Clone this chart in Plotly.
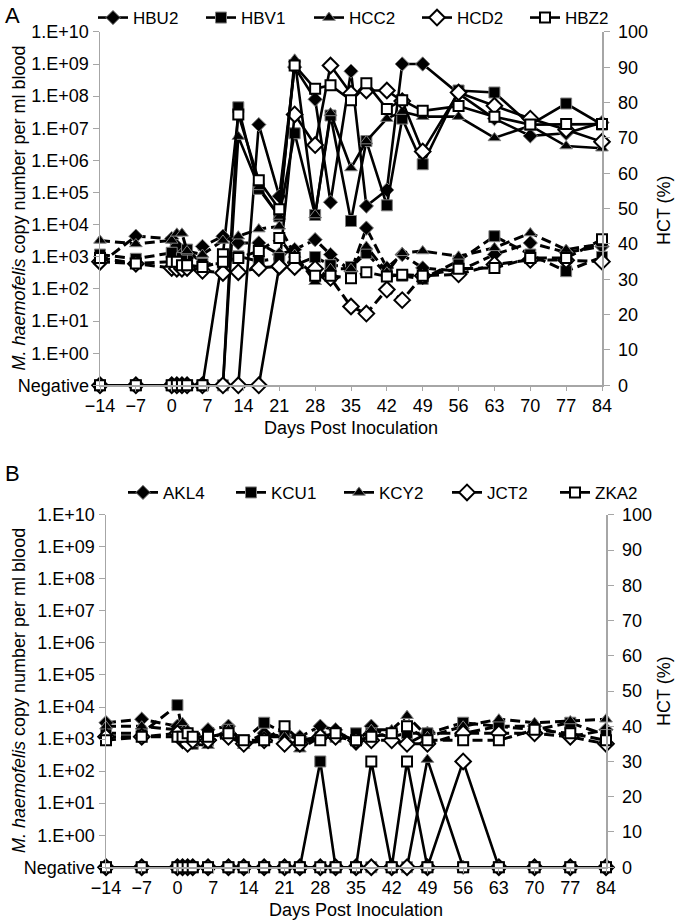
import plotly.graph_objects as go

# ---------------- data ----------------
days = [-14, -7, 0, 1, 2, 3, 6, 10, 13, 17, 21, 24, 28, 31, 35, 38, 42, 45, 49, 56, 63, 70, 77, 84]
x_ticks = [-14, -7, 0, 7, 14, 21, 28, 35, 42, 49, 56, 63, 70, 77, 84]
copy_tickvals = [0.1, 1, 10, 1e2, 1e3, 1e4, 1e5, 1e6, 1e7, 1e8, 1e9, 1e10]
copy_ticktext = ["Negative", "1.E+00", "1.E+01", "1.E+02", "1.E+03", "1.E+04",
                 "1.E+05", "1.E+06", "1.E+07", "1.E+08", "1.E+09", "1.E+10"]

# Panel A  (0 = Negative)
names_a = ["HBU2", "HBV1", "HCC2", "HCD2", "HBZ2"]
copy_hbu2 = [0, 0, 0, 0, 0, 0, 0, 0, 0, 1.3e7, 7.7e4, 8e8, 8e7, 5e4, 6e8, 3.8e4, 1.2e5, 1e9, 1e9, 1.2e8, 2e7, 5.8e6, 7e6, 1.5e7]
copy_hbv1 = [0, 0, 0, 0, 0, 0, 0, 0, 4.5e7, 1.3e5, 1.8e4, 7e6, 2e4, 2.5e7, 1.3e4, 4e6, 4e4, 2e7, 7.6e5, 1.5e8, 1.3e8, 1.3e7, 5.9e7, 1.3e7]
copy_hcc2 = [0, 0, 0, 0, 0, 0, 0, 0, 5.5e6, 1.5e5, 1.8e4, 1.4e9, 2e4, 3e7, 5.8e5, 4e6, 2e7, 3.3e7, 2.3e7, 2.3e7, 5e6, 1.2e7, 2.8e6, 2.4e6]
copy_hcd2 = [0, 0, 0, 0, 0, 0, 0, 0, 0, 0, 5e2, 2.7e7, 3e6, 9e8, 1.2e8, 1.5e8, 1.5e8, 7e7, 1.9e6, 1.3e8, 5e7, 2e7, 9e6, 3.8e6]
copy_hbz2 = [0, 0, 0, 0, 0, 0, 0, 1.2e3, 2.7e7, 2.4e5, 3e4, 9e8, 1.7e8, 2.2e8, 7.4e7, 2.5e8, 4e7, 7.5e7, 3.5e7, 4.9e7, 2.3e7, 1.3e7, 1.35e7, 1.35e7]

hct_hbu2 = [34.4, 42.2, 41.5, 39.4, 37, 36, 39.3, 42.2, 40.3, 40.3, 37, 38.4, 41.2, 37, 32.3, 44.5, 33.2, 37, 33.2, 32.3, 37, 40.3, 37.6, 39.3]
hct_hbv1 = [37, 35.8, 37.5, 34.6, 36, 38.4, 34.4, 34.4, 36.5, 35.1, 36, 34, 36.3, 34, 33.5, 37.4, 31.4, 31, 30.1, 35.2, 42.2, 37, 32.3, 36.3]
hct_hcc2 = [41, 40, 41, 43, 43, 38, 37, 41, 42.2, 44.2, 45, 37, 29.3, 33, 33, 39.3, 32, 37.5, 38, 36.5, 38.9, 43.1, 38.4, 40]
hct_hcd2 = [35, 34.4, 33.2, 33, 33, 33.2, 32.4, 31.8, 32, 33.2, 33.7, 33.5, 33, 30.4, 22.3, 20.3, 27.1, 24.1, 31, 31.4, 34.2, 35.5, 35.4, 35]
hct_hbz2 = [36, 34.5, 35, 35, 34, 34, 33.5, 35, 36, 38, 41.7, 36, 31, 31, 30.3, 32, 30.8, 31.3, 31, 33, 33.2, 36, 36, 41.3]

# Panel B
names_b = ["AKL4", "KCU1", "KCY2", "JCT2", "ZKA2"]
copy_akl4 = [0] * 24
copy_kcu1 = [0, 0, 0, 0, 0, 0, 0, 0, 0, 0, 0, 0, 2e2, 0, 0, 0, 0, 0, 0, 0, 0, 0, 0, 0]
copy_kcy2 = [0, 0, 0, 0, 0, 0, 0, 0, 0, 0, 0, 0, 0, 0, 0, 0, 0, 0, 2.3e2, 0, 0, 0, 0, 0]
copy_jct2 = [0, 0, 0, 0, 0, 0, 0, 0, 0, 0, 0, 0, 0, 0, 0, 0, 0, 0, 0, 2e2, 0, 0, 0, 0]
copy_zka2 = [0, 0, 0, 0, 0, 0, 0, 0, 0, 0, 0, 0, 0, 0, 0, 2e2, 0, 2e2, 0, 0, 0, 0, 0, 0]

hct_akl4 = [41, 42, 40, 38, 37.5, 37, 39, 40, 35, 38, 37, 37, 40, 39, 35, 40, 36, 35, 38, 38, 40, 40, 37, 39]
hct_kcu1 = [38, 38, 46, 38, 36, 35, 36, 39, 36, 41, 38, 36, 37, 37, 38, 38, 37, 38, 38, 41, 40, 39, 41, 37.5]
hct_kcy2 = [40, 40, 39, 41, 39, 35, 34.5, 39, 34.5, 37, 37, 33.5, 37, 38, 36, 39, 39, 43, 37, 40, 42, 41, 41.5, 42]
hct_jct2 = [37, 37, 38, 36, 35, 36, 36, 37, 35, 36, 35, 35, 37, 37, 36, 36, 36, 35, 35, 38, 38, 38, 37, 35]
hct_zka2 = [36, 37, 37, 37, 38, 37, 37, 38, 36, 36, 40, 36, 36, 38, 36, 37, 38, 40, 36, 36, 36, 39, 38, 36]

# ---------------- styling ----------------
W, H = 680, 921
NEG = 0.1
GRAY = "#a6a6a6"
FONT = "Liberation Sans, Arial, sans-serif"

marker_styles = [
    dict(symbol="diamond", size=11, color="black", line=dict(color="#808080", width=1)),
    dict(symbol="square", size=11, color="black", line=dict(color="#808080", width=1)),
    dict(symbol="triangle-up", size=11, color="black", line=dict(color="#808080", width=1)),
    dict(symbol="diamond", size=12, color="white", line=dict(color="black", width=2)),
    dict(symbol="square", size=10, color="white", line=dict(color="black", width=2)),
]

def px_x(p):
    return p / W

def px_y(p):
    return 1 - p / H

fig = go.Figure()

panels = [
    dict(names=names_a,
         copies=[copy_hbu2, copy_hbv1, copy_hcc2, copy_hcd2, copy_hbz2],
         hcts=[hct_hbu2, hct_hbv1, hct_hcc2, hct_hcd2, hct_hbz2],
         xa="x", ya="y", ya2="y2", legend="legend"),
    dict(names=names_b,
         copies=[copy_akl4, copy_kcu1, copy_kcy2, copy_jct2, copy_zka2],
         hcts=[hct_akl4, hct_kcu1, hct_kcy2, hct_jct2, hct_zka2],
         xa="x2", ya="y3", ya2="y4", legend="legend2"),
]

for p in panels:
    # dashed HCT lines (right axis)
    for i, name in enumerate(p["names"]):
        fig.add_trace(go.Scatter(
            x=days, y=p["hcts"][i], mode="lines+markers",
            line=dict(color="black", width=3, dash="10px,5px"),
            marker=marker_styles[i], xaxis=p["xa"], yaxis=p["ya2"],
            showlegend=False, cliponaxis=False, hoverinfo="skip"))
    # solid copy-number lines (left axis)
    for i, name in enumerate(p["names"]):
        yv = [NEG if v == 0 else v for v in p["copies"][i]]
        fig.add_trace(go.Scatter(
            x=days, y=yv, mode="lines+markers", name=name,
            line=dict(color="black", width=2.6),
            marker=marker_styles[i], xaxis=p["xa"], yaxis=p["ya"],
            legend=p["legend"], cliponaxis=False, hoverinfo="skip"))

tickfont = dict(family=FONT, size=18, color="black")

def xaxis_cfg(x0, x1, anchor):
    return dict(domain=[px_x(x0), px_x(x1)], range=[-14, 84], tickvals=x_ticks,
                ticks="outside", ticklen=4, tickcolor=GRAY, showline=True,
                linecolor=GRAY, linewidth=1.5, showgrid=False, zeroline=False,
                tickfont=tickfont, anchor=anchor, automargin=False)

def ylog_cfg(t, b, anchor):
    return dict(domain=[px_y(b), px_y(t)], type="log", range=[-1, 10],
                tickvals=copy_tickvals, ticktext=copy_ticktext,
                ticks="outside", ticklen=6, tickcolor=GRAY, showline=True,
                linecolor=GRAY, linewidth=1.5, showgrid=False, zeroline=False,
                tickfont=tickfont, anchor=anchor, automargin=False)

def yhct_cfg(overlay, anchor):
    return dict(overlaying=overlay, side="right", range=[0, 100], dtick=10,
                ticks="outside", ticklen=6, tickcolor=GRAY, showline=True,
                linecolor=GRAY, linewidth=1.5, showgrid=False, zeroline=False,
                tickfont=tickfont, anchor=anchor, automargin=False,
                ticklabelstandoff=5)

A_T, A_B, A_L, A_R = 28, 383, 100, 602
B_T, B_B, B_L, B_R = 513, 867, 106, 606

legend_cfg = dict(orientation="h", font=dict(family=FONT, size=17, color="black"),
                  bgcolor="rgba(0,0,0,0)", entrywidth=63, entrywidthmode="pixels",
                  tracegroupgap=0, xanchor="left", yanchor="middle", itemclick=False)

fig.update_layout(
    width=W, height=H, margin=dict(l=0, r=0, t=0, b=0),
    paper_bgcolor="white", plot_bgcolor="white",
    font=dict(family=FONT, size=18, color="black"),
    xaxis=xaxis_cfg(A_L, A_R, "y"),
    yaxis=ylog_cfg(A_T, A_B, "x"),
    yaxis2=yhct_cfg("y", "x"),
    xaxis2=xaxis_cfg(B_L, B_R, "y3"),
    yaxis3=ylog_cfg(B_T, B_B, "x2"),
    yaxis4=yhct_cfg("y3", "x2"),
    legend=dict(legend_cfg, x=px_x(93), y=px_y(14)),
    legend2=dict(legend_cfg, x=px_x(123), y=px_y(491)),
    showlegend=True,
    hovermode=False,
)

annots = [
    dict(text="A", x=px_x(3), y=px_y(12), font=dict(size=22)),
    dict(text="B", x=px_x(3), y=px_y(472), font=dict(size=22)),
    dict(text="<i>M. haemofelis</i> copy number per ml blood", x=px_x(19), y=px_y((A_T + A_B) / 2), textangle=-90, xanchor="center"),
    dict(text="<i>M. haemofelis</i> copy number per ml blood", x=px_x(19), y=px_y((B_T + B_B) / 2), textangle=-90, xanchor="center"),
    dict(text="HCT (%)", x=px_x(664), y=px_y(207), textangle=-90, xanchor="center"),
    dict(text="HCT (%)", x=px_x(664), y=px_y(690), textangle=-90, xanchor="center"),
    dict(text="Days Post Inoculation", x=px_x((A_L + A_R) / 2), y=px_y(426), xanchor="center"),
    dict(text="Days Post Inoculation", x=px_x((B_L + B_R) / 2), y=px_y(910), xanchor="center"),
]
for a in annots:
    a.setdefault("xanchor", "left")
    fig.add_annotation(xref="paper", yref="paper", showarrow=False,
                       yanchor="middle", font=a.pop("font", dict(size=18)), **a)

fig.write_html(
    "out.html",
    config={"displayModeBar": False, "staticPlot": True},
    post_script="document.body.style.margin='0px';document.body.style.overflow='hidden';",
)
